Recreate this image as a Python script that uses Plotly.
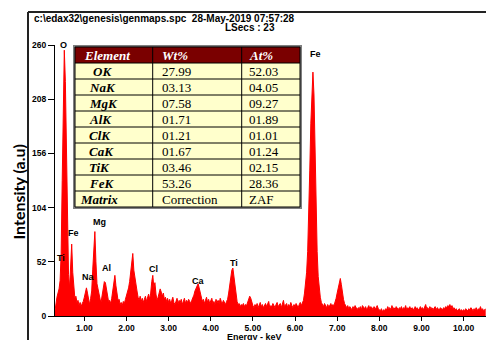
import numpy as np
import plotly.graph_objects as go

# ---------------- spectrum (counts per 25 eV channel, starting at 0.300 keV) ----------------
E_START = 0.300
E_STEP = 0.025
counts = [
    # 0.300 - 0.475
    4, 12, 18, 22, 26, 34, 60, 130,
    # 0.500 - 0.975
    215, 255, 225, 150, 70, 40, 27, 45, 69, 42, 24, 17, 19, 13, 15, 10, 13, 9, 12, 14,
    # 1.000 - 1.475
    18, 24, 27, 22, 15, 11, 17, 24, 45, 72, 81, 52, 31, 26, 19, 16, 14, 21, 29, 33,
    # 1.500 - 1.975
    32, 27, 19, 14, 15, 12, 17, 23, 31, 39, 29, 19, 15, 16, 11, 13, 10, 14, 12, 16,
    # 2.000 - 2.475
    19, 23, 27, 33, 42, 55, 60, 44, 36, 31, 24, 18, 15, 19, 14, 17, 13, 16, 19, 14,
    # 2.500 - 2.975
    17, 21, 16, 22, 33, 39, 27, 32, 21, 15, 18, 22, 26, 23, 19, 22, 16, 18, 14, 17,
    # 3.000 - 3.475
    13, 16, 12, 15, 18, 13, 11, 14, 17, 12, 15, 13, 16, 11, 14, 17, 12, 15, 13, 16,
    # 3.500 - 3.975
    14, 12, 15, 17, 20, 24, 27, 30, 31, 27, 22, 17, 14, 16, 12, 15, 18, 13, 16, 12,
    # 4.000 - 4.475
    15, 17, 12, 14, 11, 16, 13, 15, 12, 17, 14, 12, 15, 13, 11, 14, 16, 22, 30, 38,
    # 4.500 - 4.975
    44, 46, 37, 27, 19, 14, 11, 12, 9, 11, 10, 12, 9, 11, 10, 13, 15, 19, 17, 12,
    # 5.000 - 5.475
    10, 8, 11, 9, 12, 8, 10, 13, 9, 11, 8, 10, 12, 9, 11, 14, 8, 10, 9, 12,
    # 5.500 - 5.975
    10, 8, 11, 13, 9, 10, 12, 8, 11, 15, 9, 10, 12, 8, 11, 9, 13, 10, 8, 11,
    # 6.000 - 6.475
    9, 12, 10, 8, 11, 13, 10, 12, 15, 22, 30, 42, 62, 95, 140, 185, 220, 234, 212, 160,
    # 6.500 - 6.975
    102, 62, 38, 26, 18, 13, 11, 9, 12, 10, 8, 11, 9, 10, 12, 9, 11, 10, 13, 17,
    # 7.000 - 7.475
    22, 28, 34, 36, 30, 22, 16, 12, 9, 8, 10, 7, 9, 8, 6, 9, 7, 10, 8, 6,
    # 7.500 - 7.975
    8, 7, 9, 6, 10, 8, 7, 9, 6, 8, 10, 7, 9, 8, 6, 9, 7, 8, 10, 7,
    # 8.000 - 8.475
    6, 5, 7, 4, 6, 5, 7, 6, 9, 7, 8, 6, 10, 7, 8, 6, 9, 7, 6, 8,
    # 8.500 - 8.975
    7, 9, 6, 8, 7, 10, 6, 8, 7, 9, 6, 8, 7, 6, 9, 7, 8, 6, 7, 9,
    # 9.000 - 9.475
    7, 8, 6, 9, 11, 7, 8, 6, 9, 7, 8, 6, 7, 9, 6, 8, 7, 6, 8, 7,
    # 9.500 - 9.975
    6, 8, 7, 9, 8, 10, 9, 11, 8, 10, 7, 8, 6, 7, 5, 6, 7, 5, 6, 5,
    # 10.000 - 10.525
    6, 5, 7, 6, 5, 7, 6, 8, 6, 5, 7, 6, 8, 5, 7, 6, 9, 6, 7, 5, 6, 7,
]
energy = np.round(E_START + E_STEP * np.arange(len(counts)), 3)

# peak identifications
peak_names = ["O", "Ti", "Fe", "Na", "Mg", "Al", "Cl", "Ca", "Ti", "Fe"]
peak_kev = [0.50, 0.45, 0.75, 1.09, 1.35, 1.53, 2.65, 3.71, 4.56, 6.48]
peak_cnt = [260, 56, 80, 37, 90, 46, 45, 34, 51, 251]

# axis ticks
x_ticks = [1, 2, 3, 4, 5, 6, 7, 8, 9, 10]
y_ticks = [0, 52, 104, 156, 208, 260]

# quantification table
table_header = ["Element", "Wt%", "At%"]
elements = ["OK", "NaK", "MgK", "AlK", "ClK", "CaK", "TiK", "FeK", "Matrix"]
wt_pct = ["27.99", "03.13", "07.58", "01.71", "01.21", "01.67", "03.46", "53.26", "Correction"]
at_pct = ["52.03", "04.05", "09.27", "01.89", "01.01", "01.24", "02.15", "28.36", "ZAF"]

# ---------------- layout helpers (pixel -> paper) ----------------
W, H = 486, 340
ML, MR, MT, MB = 55, 0, 45, 24
PW, PH = W - ML - MR, H - MT - MB


def px(x):
    return (x - ML) / PW


def py(y):
    return (H - MB - y) / PH


SANS = "Liberation Sans, Arial, sans-serif"
SERIF = "Liberation Serif, Times New Roman, serif"

fig = go.Figure()

fig.add_trace(go.Scatter(
    x=energy, y=counts, mode="lines",
    line=dict(color="#ff0000", width=1),
    fill="tozeroy", fillcolor="#ff0000",
    hoverinfo="skip", showlegend=False,
))

annotations = []
shapes = []

# ---------------- quantification table, drawn as a grid ----------------
T_LEFT, T_TOP, ROW_H = 75, 47, 16
COL_EDGES = [75, 152.7, 241.7, 300]
n_rows = len(elements) + 1
T_BOTTOM = T_TOP + ROW_H * n_rows

shapes.append(dict(type="rect", xref="paper", yref="paper",
                   x0=px(T_LEFT - 2), x1=px(COL_EDGES[-1] + 2), y0=py(T_BOTTOM + 2), y1=py(T_TOP - 2),
                   fillcolor="#7f7f7f", line=dict(width=0)))
shapes.append(dict(type="rect", xref="paper", yref="paper",
                   x0=px(T_LEFT), x1=px(COL_EDGES[-1]), y0=py(T_TOP + ROW_H), y1=py(T_TOP),
                   fillcolor="#7a0000", line=dict(width=0)))
shapes.append(dict(type="rect", xref="paper", yref="paper",
                   x0=px(T_LEFT), x1=px(COL_EDGES[-1]), y0=py(T_BOTTOM), y1=py(T_TOP + ROW_H),
                   fillcolor="#ffffcc", line=dict(width=0)))
for r in range(n_rows + 1):
    yy = T_TOP + r * ROW_H
    shapes.append(dict(type="line", xref="paper", yref="paper",
                       x0=px(T_LEFT), x1=px(COL_EDGES[-1]), y0=py(yy), y1=py(yy),
                       line=dict(color="black", width=1)))
for xe in COL_EDGES:
    shapes.append(dict(type="line", xref="paper", yref="paper",
                       x0=px(xe), x1=px(xe), y0=py(T_BOTTOM), y1=py(T_TOP),
                       line=dict(color="black", width=1)))

col_text_x = [81.5, 159.5, 246.5]
first_col_x = {"OK": 90.5, "Matrix": 78.3}


def cell_text(x, row, text, color="black"):
    annotations.append(dict(
        x=px(x), y=py(T_TOP + row * ROW_H + ROW_H / 2 + 0.5), xref="paper", yref="paper",
        xanchor="left", yanchor="middle", text=text, showarrow=False,
        font=dict(family=SERIF, size=13, color=color),
    ))


for c, label in enumerate(table_header):
    cell_text(col_text_x[c], 0, f"<b><i>{label}</i></b>", "white")
for r, (el, wt, at) in enumerate(zip(elements, wt_pct, at_pct), start=1):
    cell_text(first_col_x.get(el, 86.5), r, f"<b><i>{el}</i></b>")
    cell_text(col_text_x[1], r, wt)
    cell_text(col_text_x[2], r, at)

# ---------------- peak labels ----------------
for name, xk, yc in zip(peak_names, peak_kev, peak_cnt):
    annotations.append(dict(
        x=xk, y=yc, xref="x", yref="y", text=name, showarrow=False,
        xanchor="center", yanchor="middle",
        font=dict(family=SANS, size=9, color="black", weight="bold"),
    ))

# ---------------- header, titles ----------------
annotations += [
    dict(x=px(32), y=py(18), xref="paper", yref="paper", xanchor="left", yanchor="middle",
         text="c:\\edax32\\genesis\\genmaps.spc\u00a0\u00a028-May-2019 07:57:28", showarrow=False,
         font=dict(family=SANS, size=10, color="black", weight="bold")),
    dict(x=px(277), y=py(28), xref="paper", yref="paper", xanchor="right", yanchor="middle",
         text="LSecs : 23", showarrow=False,
         font=dict(family=SANS, size=10, color="black", weight="bold")),
    dict(x=px(17.5), y=py(192), xref="paper", yref="paper", xanchor="center", yanchor="middle",
         text="Intensity (a.u)", textangle=-90, showarrow=False,
         font=dict(family="Lato, sans-serif", size=16, color="black", weight="bold")),
    dict(x=px(254), y=py(337), xref="paper", yref="paper", xanchor="center", yanchor="middle",
         text="Energy - keV", showarrow=False,
         font=dict(family=SANS, size=9, color="black", weight="bold")),
]

# outer window frame
shapes += [
    dict(type="line", xref="paper", yref="paper", x0=px(28), x1=px(486), y0=py(12), y1=py(12),
         line=dict(color="#222222", width=2)),
    dict(type="line", xref="paper", yref="paper", x0=px(28), x1=px(28), y0=py(12), y1=py(340),
         line=dict(color="#222222", width=2)),
]

fig.update_layout(
    width=W, height=H,
    margin=dict(l=ML, r=MR, t=MT, b=MB, pad=0),
    paper_bgcolor="white", plot_bgcolor="white",
    showlegend=False,
    annotations=annotations, shapes=shapes,
    xaxis=dict(
        range=[0.304, 10.532], tickvals=x_ticks, tickformat=".2f",
        showline=True, linecolor="black", linewidth=1,
        ticks="outside", ticklen=4, tickwidth=1, tickcolor="black",
        showgrid=False, zeroline=False,
        tickfont=dict(family=SANS, size=8.5, color="black", weight="bold"),
    ),
    yaxis=dict(
        range=[0, 260], tickvals=y_ticks,
        showline=True, linecolor="black", linewidth=1,
        ticks="outside", ticklen=6, tickwidth=1, tickcolor="black",
        showgrid=False, zeroline=False,
        tickfont=dict(family=SANS, size=8.5, color="black", weight="bold"),
    ),
)

fig.write_html("out.html")
